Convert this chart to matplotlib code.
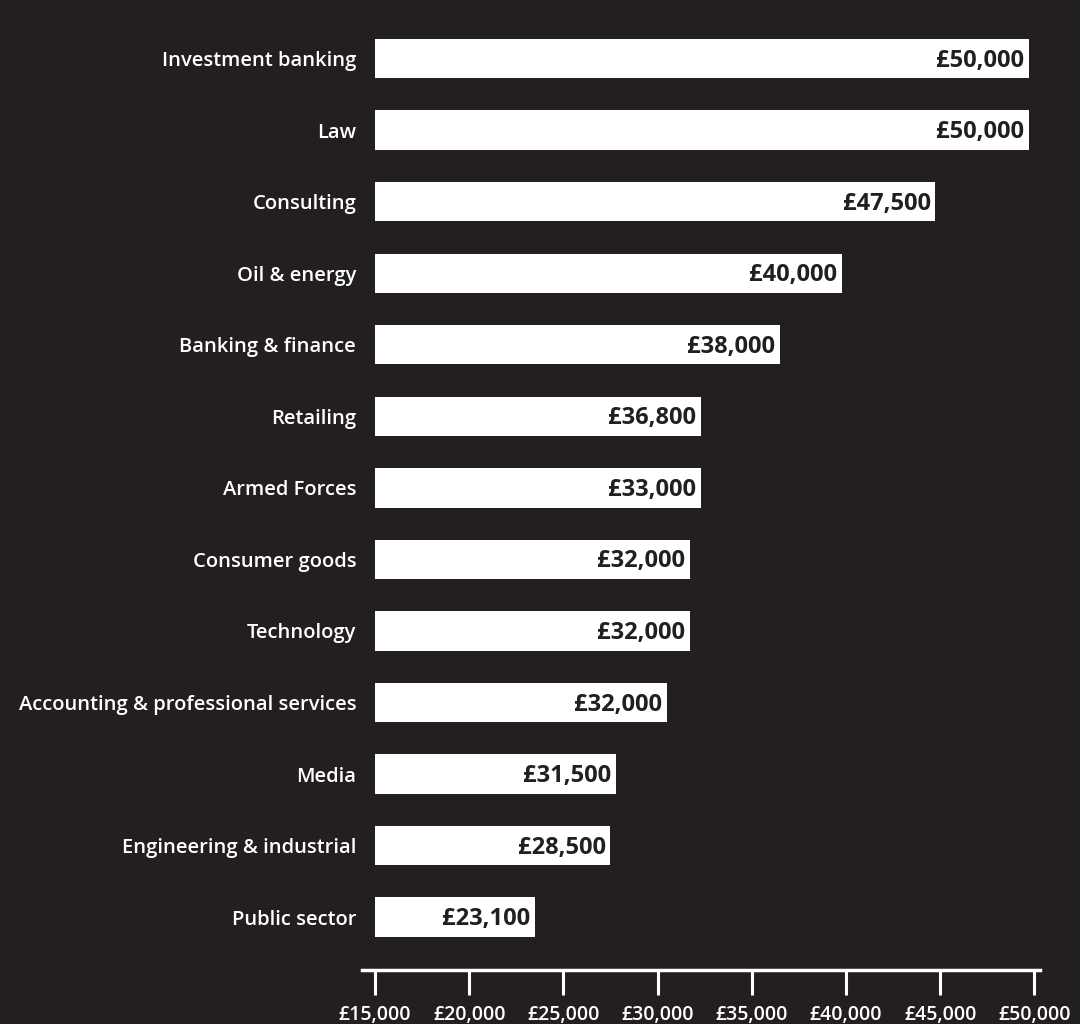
import matplotlib.pyplot as plt
import numpy as np

# sectors, top to bottom
sectors = ["Investment banking", "Law", "Consulting", "Oil & energy",
           "Banking & finance", "Retailing", "Armed Forces", "Consumer goods",
           "Technology", "Accounting & professional services", "Media",
           "Engineering & industrial", "Public sector"]
# bar ends as drawn in the original (not quite to scale with the labels)
bar_ends = [49700, 49700, 44750, 39800, 36500, 32300, 32300, 31700,
            31700, 30500, 27800, 27500, 23500]
salary_labels = ["£50,000", "£50,000", "£47,500", "£40,000", "£38,000",
                 "£36,800", "£33,000", "£32,000", "£32,000", "£32,000",
                 "£31,500", "£28,500", "£23,100"]
ticks = [15000, 20000, 25000, 30000, 35000, 40000, 45000, 50000]
tick_labels = ["£15,000", "£20,000", "£25,000", "£30,000", "£35,000",
               "£40,000", "£45,000", "£50,000"]

bg = "#231f20"
plt.rcParams['font.family'] = ['Open Sans', 'DejaVu Sans']

fig = plt.figure(figsize=(10.8, 10.24), dpi=100, facecolor=bg)
ax = fig.add_axes([0.335, 0.0527, 0.628, 0.9418])
ax.set_facecolor(bg)

y = np.arange(len(sectors))
base = ticks[0]
widths = [b - base for b in bar_ends]
ax.barh(y, widths, left=base, height=0.55, color="white")

for yi, end, lab in zip(y, bar_ends, salary_labels):
    ax.annotate(lab, (end, yi), xytext=(-3.5, -1.5), textcoords="offset points",
                ha="right", va="center", fontsize=17, fontweight="bold",
                color="#231f20")

ax.set_yticks(y)
ax.set_yticklabels(sectors, fontsize=14.5, fontweight="semibold", color="white")
ax.tick_params(axis="y", length=0, pad=4)
ax.set_ylim(len(sectors) - 1 + 0.74, -0.74)

ax.set_xlim(14300, 50300)
ax.set_xticks(ticks)
ax.set_xticklabels(tick_labels, fontsize=14, fontweight="semibold", color="white")
ax.tick_params(axis="x", length=18, width=2.2, color="white", pad=7)

for side in ["top", "right", "left"]:
    ax.spines[side].set_visible(False)
ax.spines["bottom"].set_color("white")
ax.spines["bottom"].set_linewidth(2.5)

fig.savefig("out.png", dpi=100, facecolor=bg)
